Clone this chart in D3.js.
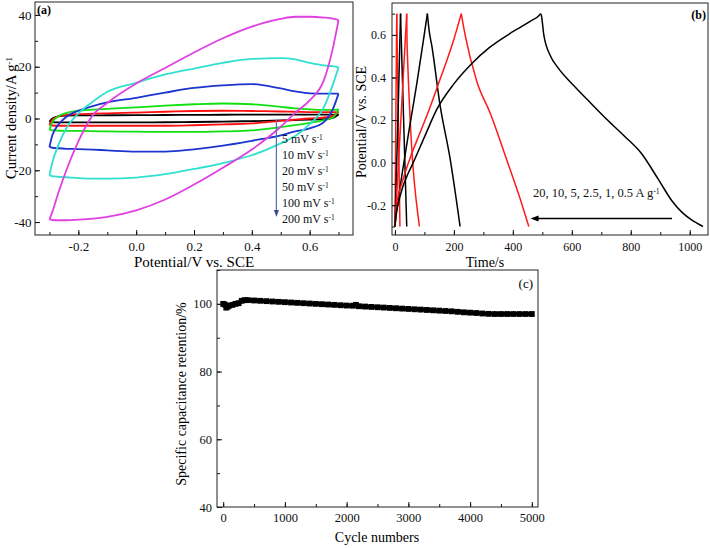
<!DOCTYPE html>
<html><head><meta charset="utf-8">
<script src="https://cdn.jsdelivr.net/npm/d3@7"></script>
<style>
body{margin:0;background:#fff;}
svg{display:block;font-family:"Liberation Serif","Times New Roman",serif;}
</style></head><body>
<svg id="chart" width="710" height="548"></svg>
<script>
// ---------- Panel (a): cyclic voltammetry ----------
const cvPotential = [-0.3,-0.29,-0.27,-0.24,-0.2,-0.15,-0.1,0,0.1,0.2,0.3,0.4,0.5,0.55,0.6,0.65,0.68,0.7];
const cvRates = ["5", "10", "20", "50", "100", "200"];
const cvColors = ["#000000", "#ff1010", "#10e010", "#1c34d0", "#30e0d0", "#e040e0"];
const cv5Up     = [-1.2,0.0,0.8,1.1,1.2,1.2,1.25,1.3,1.35,1.4,1.45,1.5,1.5,1.5,1.5,1.5,1.5,1.5];
const cv5Down   = [-1.2,-1.4,-1.5,-1.5,-1.5,-1.5,-1.5,-1.5,-1.45,-1.35,-1.2,-1.0,-0.75,-0.6,-0.45,-0.25,0.2,1.5];
const cv10Up    = [-2.5,-0.5,0.8,1.4,1.7,1.9,2.0,2.3,2.6,2.9,3.0,2.9,2.7,2.6,2.5,2.5,2.5,2.5];
const cv10Down  = [-2.5,-2.7,-2.8,-2.8,-2.8,-2.8,-2.8,-2.8,-2.8,-2.6,-2.3,-1.9,-0.9,-0.45,0,0.4,1.0,2.5];
const cv20Up    = [-4.3,-1.5,0.8,2.2,3.0,3.4,3.7,4.3,5.0,5.5,5.8,5.5,4.5,3.9,3.5,3.3,3.3,3.5];
const cv20Down  = [-4.3,-4.6,-4.7,-4.8,-4.8,-4.9,-5.0,-5.1,-5.2,-5.2,-5.0,-4.6,-3.3,-2.6,-1.7,-0.6,0.3,3.5];
const cv50Up    = [-11,-6.5,-2.5,0.8,3.0,4.8,6.2,8.0,10.0,11.8,12.8,13.3,11.6,10.5,9.7,9.6,9.6,9.6];
const cv50Down  = [-11,-11.3,-11.5,-11.7,-11.8,-12.0,-12.3,-12.8,-12.8,-11.9,-10.5,-8.6,-6.5,-5.0,-3.8,-1.3,3.5,9.6];
const cv100Up   = [-22,-17,-10.5,-3.5,2.0,6.5,10.3,13.8,17.0,19.3,21.5,23.0,23.3,22.8,21.5,20.5,20.2,19.8];
const cv100Down = [-22,-22.3,-22.5,-22.7,-23.0,-23.2,-23.2,-22.8,-21.5,-19.5,-17.2,-14.2,-9.6,-6.8,-2.2,4.5,13.0,19.8];
const cv200Up   = [-39,-36,-29,-19.5,-8.8,1.3,6.0,13.5,19.5,25.5,31,35.5,38.5,39.3,39.3,39,38.6,38];
const cv200Down = [-39,-39.2,-39.3,-39.3,-39.1,-38.7,-38.0,-35.5,-31.3,-25.5,-19.0,-12.0,-3.2,2.2,7.0,15.0,27.0,38];
const cvUp = [cv5Up, cv10Up, cv20Up, cv50Up, cv100Up, cv200Up];
const cvDown = [cv5Down, cv10Down, cv20Down, cv50Down, cv100Down, cv200Down];
const aXTicks = [-0.2, 0.0, 0.2, 0.4, 0.6];
const aYTicks = [-40, -20, 0, 20, 40];

// ---------- Panel (b): galvanostatic charge-discharge ----------
const gcdLabels = ["20", "10", "5", "2.5", "1", "0.5"];
const gcdColors = ["#ff1a1a", "#000000", "#ff1a1a", "#000000", "#ff1a1a", "#000000"];
const gcd20Charge = [[0,-0.3],[3,0.2],[6,0.7]];
const gcd20Discharge = [[6,0.7],[7,0.6],[17,-0.3]];
const gcd10Charge = [[0,-0.3],[10,0.2],[19,0.7]];
const gcd10Discharge = [[19,0.7],[21,0.6],[40,-0.3]];
const gcd5Charge = [[0,-0.3],[20,0.2],[40,0.7]];
const gcd5Discharge = [[40,0.7],[41,0.56],[83,-0.3]];
const gcd2p5Charge = [[0,-0.3],[5,-0.24],[28,-0.02],[50,0.17],[74,0.37],[96,0.57],[110,0.7]];
const gcd2p5Discharge = [[110,0.7],[116,0.62],[125,0.55],[153,0.27],[187,0.02],[221,-0.3]];
const gcd1Charge = [[0,-0.3],[6,-0.2],[25,-0.09],[51,0.02],[85,0.14],[119,0.26],[150,0.38],[176,0.48],[200,0.58],[225,0.7]];
const gcd1Discharge = [[225,0.7],[230,0.66],[238,0.6],[278,0.38],[324,0.23],[380,0.01],[420,-0.15],[454,-0.3]];
const gcd0p5Charge = [[0,-0.3],[3,-0.25],[10,-0.2],[25,-0.12],[45,-0.05],[62,0],[100,0.12],[142,0.25],[200,0.37],[261,0.466],[320,0.54],[400,0.615],[460,0.665],[488,0.69],[494,0.7]];
const gcd0p5Discharge = [[494,0.7],[497,0.69],[500,0.66],[505,0.6],[528,0.5],[551,0.45],[608,0.36],[664,0.28],[721,0.2],[778,0.125],[835,0.045],[892,-0.075],[940,-0.18],[975,-0.235],[1005,-0.268],[1045,-0.3]];
const gcdCharge = [gcd20Charge, gcd10Charge, gcd5Charge, gcd2p5Charge, gcd1Charge, gcd0p5Charge];
const gcdDischarge = [gcd20Discharge, gcd10Discharge, gcd5Discharge, gcd2p5Discharge, gcd1Discharge, gcd0p5Discharge];
const bXTicks = [0, 200, 400, 600, 800, 1000];
const bYTicks = [-0.2, 0.0, 0.2, 0.4, 0.6];

// ---------- Panel (c): cycling stability ----------
const cycleNumbers = [0,25,50,75,100,150,200,250,300,350,400,500,600,700,800,900,1000,1100,1200,1300,1400,1500,1600,1700,1800,1900,2000,2100,2150,2200,2300,2400,2500,2600,2700,2800,2900,3000,3100,3200,3300,3400,3500,3600,3700,3800,3900,4000,4100,4200,4300,4400,4500,4600,4700,4800,4900,5000];
const retention = [100.0,99.8,98.9,99.2,99.5,99.7,100.0,100.2,100.9,101.1,101.1,101.0,100.9,100.8,100.7,100.6,100.5,100.4,100.3,100.2,100.1,100.0,99.9,99.8,99.7,99.6,99.5,99.45,99.7,99.3,99.2,99.1,99.0,98.9,98.8,98.7,98.6,98.5,98.4,98.3,98.2,98.1,98.0,97.9,97.8,97.65,97.5,97.4,97.3,97.15,97.05,97.0,97.0,97.0,97.0,97.0,97.0,97.0];
const cXTicks = [0, 1000, 2000, 3000, 4000, 5000];
const cYTicks = [40, 60, 80, 100];

const svg = d3.select("#chart");
const hy = f => (v => f(v).replace("\u2212", "-"));

function addSup(t, base, sup) {
  t.append("tspan").text(base);
  t.append("tspan").attr("dy", "-0.45em").attr("font-size", "0.62em").text(sup);
}

function axes(g, x, y, c) {
  const [y0] = y.range();
  const [x0] = x.range();
  const style = a => {
    a.select(".domain").remove();
    a.attr("font-family", null).attr("font-size", c.fs);
    a.selectAll("line").attr("stroke", "#111");
    a.selectAll("text").attr("fill", "#111");
  };
  g.append("g").attr("transform", `translate(0,${y0})`)
    .call(d3.axisBottom(x).tickValues(c.xMinor).tickSize(-3).tickFormat(""))
    .call(style);
  g.append("g").attr("transform", `translate(${x0},0)`)
    .call(d3.axisLeft(y).tickValues(c.yMinor).tickSize(-3).tickFormat(""))
    .call(style);
  g.append("g").attr("transform", `translate(0,${y0})`)
    .call(d3.axisBottom(x).tickValues(c.xTicks).tickSize(-5).tickPadding(c.xPad).tickFormat(c.xFmt))
    .call(style);
  g.append("g").attr("transform", `translate(${x0},0)`)
    .call(d3.axisLeft(y).tickValues(c.yTicks).tickSize(-5).tickPadding(c.yPad).tickFormat(c.yFmt))
    .call(style);
  const xr = x.range(), yr = y.range();
  g.append("rect").attr("x", xr[0]).attr("y", yr[1])
    .attr("width", xr[1] - xr[0]).attr("height", yr[0] - yr[1])
    .attr("fill", "none").attr("stroke", "#222").attr("stroke-width", 1);
}

function minorVals(a, b, step) {
  const out = [];
  for (let v = a; v <= b + 1e-9; v += step) out.push(+v.toFixed(6));
  return out;
}

// ===== Panel (a) =====
{
  const g = svg.append("g");
  const x = d3.scaleLinear().domain([-0.35, 0.75]).range([35, 353]);
  const y = d3.scaleLinear().domain([-45, 45]).range([235, 2]);
  const line = d3.line().x(d => x(d[0])).y(d => y(d[1])).curve(d3.curveMonotoneX);
  cvUp.forEach((up, i) => {
    const upPts = cvPotential.map((e, k) => [e, up[k]]);
    const dnPts = cvPotential.map((e, k) => [e, cvDown[i][k]]);
    [upPts, dnPts].forEach(p => g.append("path").attr("d", line(p))
      .attr("fill", "none").attr("stroke", cvColors[i]).attr("stroke-width", 1.8));
  });
  axes(g, x, y, {
    xTicks: aXTicks, yTicks: aYTicks, xMinor: minorVals(-0.3, 0.7, 0.1), yMinor: minorVals(-40, 40, 10),
    xFmt: hy(d3.format(".1f")), yFmt: hy(d3.format("d")), xPad: 7, yPad: 3.5, fs: 13
  });
  // arrow + legend
  const ax = x(0.485);
  g.append("line").attr("x1", ax).attr("x2", ax).attr("y1", 120).attr("y2", 211)
    .attr("stroke", "#5b6cae").attr("stroke-width", 1.2);
  g.append("path").attr("d", `M${ax - 2.5},210 L${ax + 2.5},210 L${ax},217 Z`).attr("fill", "#3a4a90");
  cvRates.forEach((r, i) => {
    const t = g.append("text").attr("x", 282).attr("y", 143 + i * 16).attr("font-size", 12).attr("fill", "#111");
    addSup(t, r + " mV s", "-1");
  });
  g.append("text").attr("x", 37).attr("y", 14).attr("font-size", 12).attr("font-weight", "bold").text("(a)");
  g.append("text").attr("x", 194).attr("y", 267).attr("text-anchor", "middle").attr("font-size", 15).text("Potential/V vs. SCE");
  const yt = g.append("text").attr("transform", "translate(16,118) rotate(-90)").attr("text-anchor", "middle").attr("font-size", 14.5);
  addSup(yt, "Current density/A g", "-1");
}

// ===== Panel (b) =====
{
  const g = svg.append("g");
  const x = d3.scaleLinear().domain([-10, 1062]).range([392, 708]);
  const y = d3.scaleLinear().domain([-0.34, 0.75]).range([235, 3]);
  const line = d3.line().x(d => x(d[0])).y(d => y(d[1])).curve(d3.curveMonotoneX);
  gcdCharge.forEach((c, i) => {
    [c, gcdDischarge[i]].forEach(p => g.append("path").attr("d", line(p))
      .attr("fill", "none").attr("stroke", gcdColors[i]).attr("stroke-width", 1.5));
  });
  axes(g, x, y, {
    xTicks: bXTicks, yTicks: bYTicks, xMinor: minorVals(0, 1000, 100), yMinor: minorVals(-0.3, 0.7, 0.1),
    xFmt: d3.format("d"), yFmt: hy(d3.format(".1f")), xPad: 7, yPad: 6, fs: 12
  });
  const lbl = g.append("text").attr("x", 533).attr("y", 197).attr("font-size", 12.5).attr("fill", "#111");
  addSup(lbl, gcdLabels.join(", ") + " A g", "-1");
  g.append("line").attr("x1", x(940)).attr("x2", x(470)).attr("y1", 218.5).attr("y2", 218.5)
    .attr("stroke", "#000").attr("stroke-width", 1.3);
  g.append("path").attr("d", `M${x(460)},218.5 L${x(460) + 8},215.5 L${x(460) + 8},221.5 Z`).attr("fill", "#000");
  g.append("text").attr("x", 706).attr("y", 19).attr("text-anchor", "end").attr("font-size", 12).attr("font-weight", "bold").text("(b)");
  g.append("text").attr("x", 485).attr("y", 267).attr("text-anchor", "middle").attr("font-size", 14).text("Time/s");
  g.append("text").attr("transform", "translate(366,122) rotate(-90)").attr("text-anchor", "middle").attr("font-size", 14).text("Potential/V vs. SCE");
}

// ===== Panel (c) =====
{
  const g = svg.append("g");
  const x = d3.scaleLinear().domain([-100, 5100]).range([217, 538]);
  const y = d3.scaleLinear().domain([40, 110]).range([507, 270]);
  const pts = cycleNumbers.map((c, i) => [c, retention[i]]);
  g.append("path").attr("d", d3.line().x(d => x(d[0])).y(d => y(d[1]))(pts))
    .attr("fill", "none").attr("stroke", "#000").attr("stroke-width", 4);
  const sq = d3.symbol().type(d3.symbolSquare).size(34);
  g.selectAll("path.pt").data(pts).join("path").attr("class", "pt")
    .attr("transform", d => `translate(${x(d[0])},${y(d[1])})`).attr("d", sq).attr("fill", "#000");
  axes(g, x, y, {
    xTicks: cXTicks, yTicks: cYTicks, xMinor: minorVals(0, 5000, 500), yMinor: minorVals(40, 110, 10),
    xFmt: d3.format("d"), yFmt: d3.format("d"), xPad: 6, yPad: 5, fs: 12.5
  });
  g.append("text").attr("x", 533).attr("y", 288).attr("text-anchor", "end").attr("font-size", 13).text("(c)");
  g.append("text").attr("x", 377).attr("y", 542).attr("text-anchor", "middle").attr("font-size", 14).text("Cycle numbers");
  g.append("text").attr("transform", "translate(186,394) rotate(-90)").attr("text-anchor", "middle").attr("font-size", 14).text("Specific capacitance retention/%");
}
</script>
</body></html>
